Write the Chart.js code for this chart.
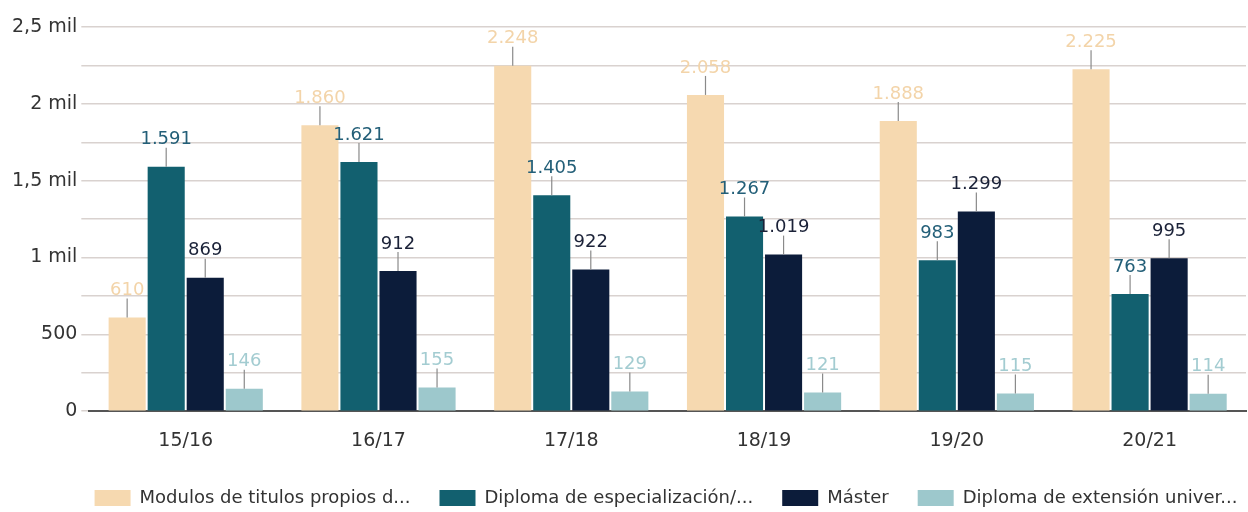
<!DOCTYPE html>
<html>
<head>
<meta charset="utf-8">
<script src="https://cdn.jsdelivr.net/npm/chart.js@4/dist/chart.umd.min.js"></script>
<style>
  html, body { margin: 0; padding: 0; background: #fff; }
  #wrap { width: 1248px; height: 512px; }
</style>
</head>
<body>
<div id="wrap"><canvas id="barchart"></canvas></div>
<script>
// datos
const cursos = ['15/16', '16/17', '17/18', '18/19', '19/20', '20/21'];
const modulos = [610, 1860, 2248, 2058, 1888, 2225];
const especializacion = [1591, 1621, 1405, 1267, 983, 763];
const master = [869, 912, 922, 1019, 1299, 995];
const extension = [146, 155, 129, 121, 115, 114];
const nombres = ['Modulos de titulos propios d...', 'Diploma de especialización/...', 'Máster', 'Diploma de extensión univer...'];
const yTicks = { 0: '0', 500: '500', 1000: '1 mil', 1500: '1,5 mil', 2000: '2 mil', 2500: '2,5 mil' };

const colores = ['#f6d9b0', '#12606f', '#0c1c3a', '#9dc8cc'];
const coloresTexto = ['#f3d4a9', '#235f78', '#1b2238', '#a3ccd1'];
const fuente = '"DejaVu Sans"';

function fmt(v) {
  return v >= 1000 ? Math.floor(v / 1000) + '.' + String(v % 1000).padStart(3, '0') : String(v);
}

// etiquetas con linea
const etiquetas = {
  id: 'etiquetas',
  afterDatasetsDraw(chart) {
    const c = chart.ctx;
    chart.data.datasets.forEach((ds, i) => {
      chart.getDatasetMeta(i).data.forEach((bar, j) => {
        c.save();
        c.strokeStyle = '#8a8a8a';
        c.lineWidth = 1.2;
        c.beginPath();
        c.moveTo(bar.x, bar.y);
        c.lineTo(bar.x, bar.y - 19);
        c.stroke();
        c.fillStyle = coloresTexto[i];
        c.font = '18px ' + fuente;
        c.textAlign = 'center';
        c.textBaseline = 'bottom';
        c.fillText(fmt(ds.data[j]), bar.x, bar.y - 18);
        c.restore();
      });
    });
  }
};

// leyenda un poco mas baja y centrada sobre el area del grafico
const altoLeyenda = {
  id: 'altoLeyenda',
  beforeInit(chart) {
    const fit = chart.legend.fit;
    chart.legend.fit = function () {
      fit.call(this);
      this.height = 50;
    };
  },
  afterLayout(chart) {
    chart.legend.left += 39;
    chart.legend.right += 39;
    chart.legend.top -= 2;
    chart.legend.bottom -= 2;
  }
};

new Chart(document.getElementById('barchart'), {
  type: 'bar',
  data: {
    labels: cursos,
    datasets: [modulos, especializacion, master, extension].map((d, i) => ({
      label: nombres[i],
      data: d,
      backgroundColor: colores[i],
      barPercentage: 0.95,
      categoryPercentage: 0.81
    }))
  },
  options: {
    responsive: true,
    maintainAspectRatio: false,
    animation: false,
    layout: { padding: { top: 27, right: 2, left: 8, bottom: 0 } },
    plugins: {
      legend: {
        position: 'bottom',
        labels: {
          boxWidth: 36,
          boxHeight: 16,
          padding: 29,
          color: '#333',
          font: { family: fuente, size: 18 }
        }
      },
      tooltip: { enabled: false }
    },
    scales: {
      x: {
        grid: { display: false },
        border: { color: '#555', width: 2 },
        ticks: { color: '#333', font: { family: fuente, size: 19 }, padding: 10 }
      },
      y: {
        min: 0,
        max: 2500,
        border: { display: false },
        grid: { color: '#d9d2cf', lineWidth: 1.5, tickLength: 8 },
        ticks: {
          stepSize: 250,
          color: '#333',
          padding: 4,
          font: { family: fuente, size: 19 },
          callback: v => yTicks[v] !== undefined ? yTicks[v] : ''
        }
      }
    }
  },
  plugins: [etiquetas, altoLeyenda]
});
</script>
</body>
</html>
